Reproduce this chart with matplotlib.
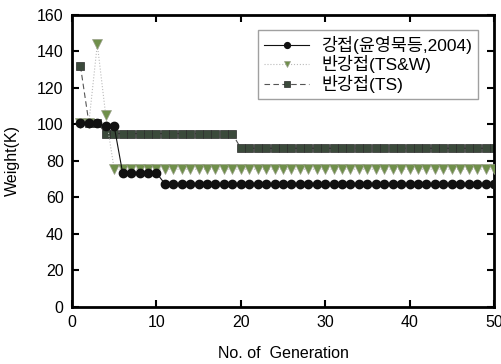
import matplotlib
matplotlib.use("Agg")
import matplotlib.pyplot as plt

plt.rcParams['font.family'] = ['Liberation Sans', 'Noto Sans CJK KR', 'DejaVu Sans']

generations = list(range(1, 51))

# 강접 (circles)
rigid = [101, 101, 101, 99, 99] + [73.5] * 5 + [67.5] * 40
# 반강접 (TS&W) (triangles)
semi_tsw = [101, 101, 144, 105] + [75.5] * 46
# 반강접 (TS) (squares)
semi_ts = [132, 101, 101] + [95] * 16 + [87] * 31

labels = ['강접(윤영묵등,2004)', '반강접(TS&W)', '반강접(TS)']

fig = plt.figure(figsize=(5.02, 3.64), dpi=100)
ax = fig.add_axes([0.1434, 0.1566, 0.8406, 0.8022])

ax.plot(generations, semi_ts, color='#555555', linestyle=(0, (5, 3)), linewidth=0.8,
        marker='s', markersize=6, markerfacecolor='#3b4a3b', markeredgecolor='#2a2a2a',
        markeredgewidth=0.5, label=labels[2], zorder=2)
ax.plot(generations, semi_tsw, color='#bbbbbb', linestyle=':', linewidth=0.8,
        marker='v', markersize=6.5, markerfacecolor='#6f8f4a', markeredgecolor='#9aa08a',
        markeredgewidth=0.5, label=labels[1], zorder=3)
ax.plot(generations, rigid, color='#111111', linestyle='-', linewidth=0.8,
        marker='o', markersize=6, markerfacecolor='#111111', markeredgecolor='#111111',
        label=labels[0], zorder=4)

ax.set_xlim(0, 50)
ax.set_ylim(0, 160)
ax.set_xticks(range(0, 51, 10))
ax.set_yticks(range(0, 161, 20))
ax.tick_params(direction='in', length=5, width=1.5, labelsize=11.5,
               top=True, right=True, pad=6)
for s in ax.spines.values():
    s.set_linewidth(2)

ax.set_xlabel('No. of  Generation', fontsize=11.5, labelpad=11)
ax.set_ylabel('Weight(K)', fontsize=11.5, labelpad=12)

h, l = ax.get_legend_handles_labels()
order = [2, 1, 0]
leg = ax.legend([h[i] for i in order], [l[i] for i in order],
                loc='upper right', bbox_to_anchor=(0.963, 0.95), borderaxespad=0,
                fontsize=12.5, frameon=True, fancybox=False, edgecolor='#888888',
                handlelength=2.6, handletextpad=0.7, labelspacing=0.1,
                borderpad=0.35, markerscale=0.7)
leg.get_frame().set_linewidth(1.0)

fig.savefig('out.png', dpi=100)
